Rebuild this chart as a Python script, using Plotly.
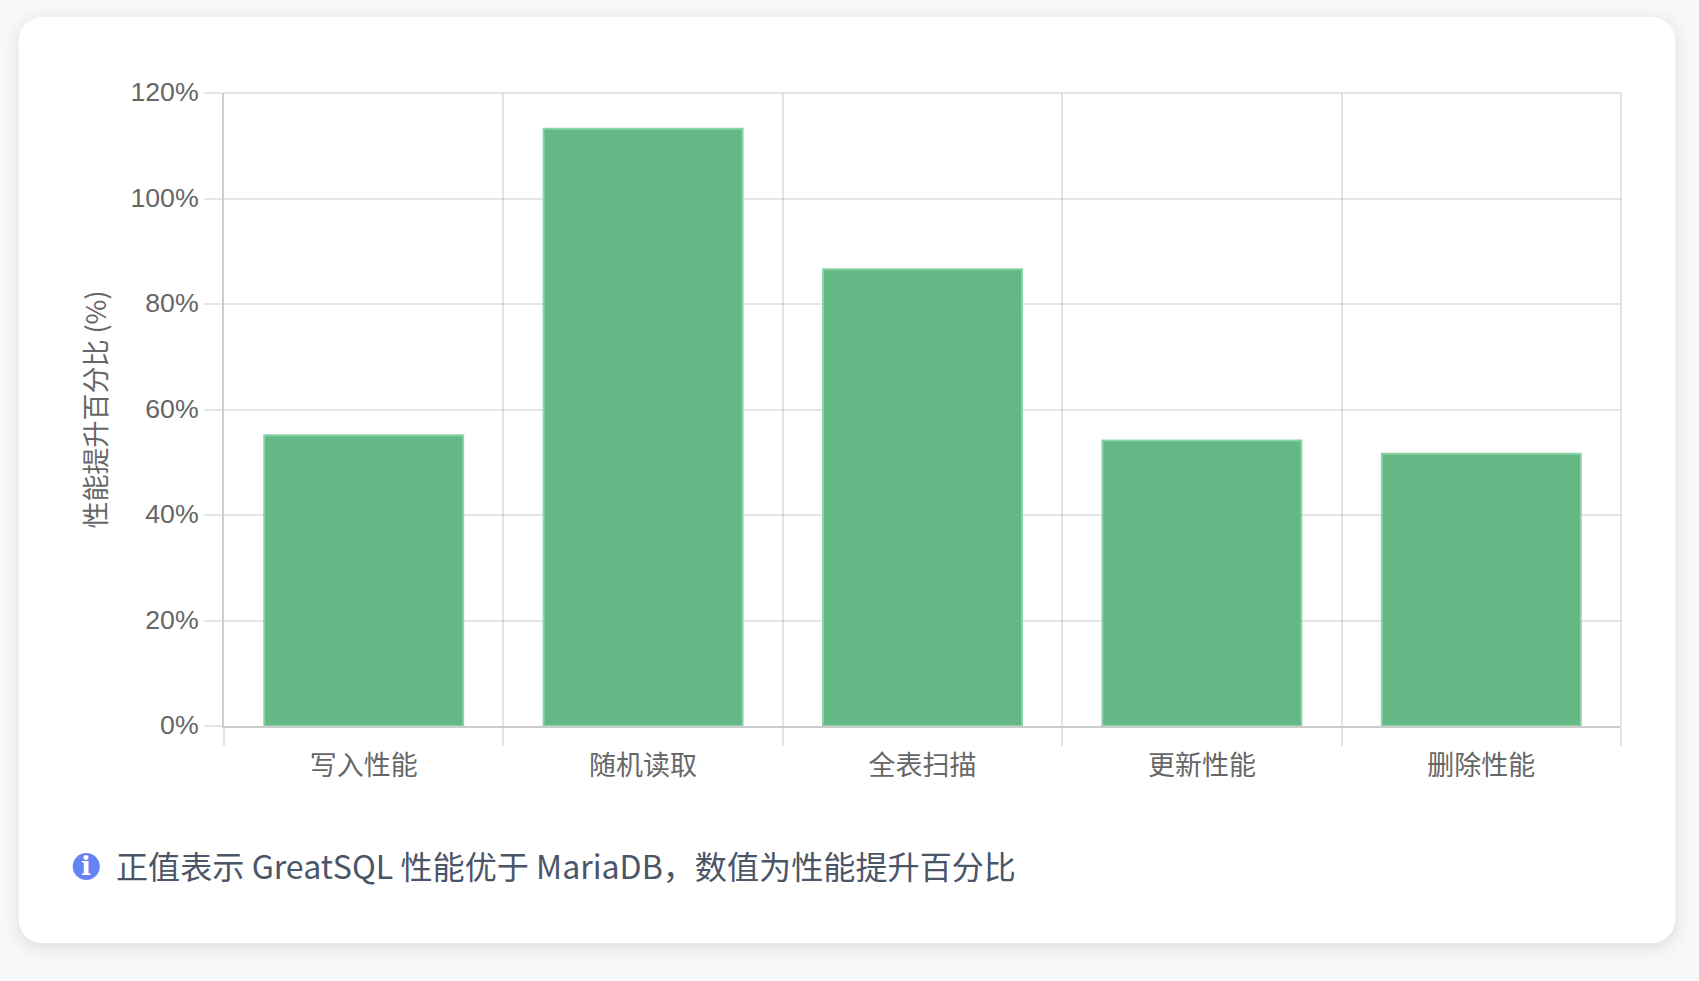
import plotly.graph_objects as go

categories = ["写入性能", "随机读取", "全表扫描", "更新性能", "删除性能"]
improvement = [55.1, 113.2, 86.6, 54.1, 51.6]
y_ticks = [0, 20, 40, 60, 80, 100, 120]
y_tick_labels = ["0%", "20%", "40%", "60%", "80%", "100%", "120%"]
y_title = "性能提升百分比 (%)"
note_text = "正值表示 GreatSQL 性能优于 MariaDB，数值为性能提升百分比"

W, H = 1699, 981
L, R, T, B = 224, 1620.6, 93, 726
CJK = "Liberation Sans, Arial, 'Noto Sans CJK SC', sans-serif"
GRID = "rgba(0,0,0,0.1)"


def px(x):
    return (x - L) / (R - L)


def py(y):
    return (B - y) / (B - T)


def rounded(x0, y0, x1, y1, r):
    k = 0.45 * r
    pts = [
        ("M", x0 + r, y0), ("L", x1 - r, y0),
        ("C", x1 - k, y0, x1, y0 + k, x1, y0 + r),
        ("L", x1, y1 - r),
        ("C", x1, y1 - k, x1 - k, y1, x1 - r, y1),
        ("L", x0 + r, y1),
        ("C", x0 + k, y1, x0, y1 - k, x0, y1 - r),
        ("L", x0, y0 + r),
        ("C", x0, y0 + k, x0 + k, y0, x0 + r, y0),
    ]
    out = []
    for p in pts:
        vals = p[1:]
        coords = " ".join(
            f"{px(vals[i]):.6f},{py(vals[i + 1]):.6f}" for i in range(0, len(vals), 2)
        )
        out.append(p[0] + " " + coords)
    return " ".join(out) + " Z"


shapes = []
for s, a in [(20, 0.004), (16, 0.005), (12, 0.006), (9, 0.007), (6, 0.008), (4, 0.009), (2, 0.01), (1, 0.01)]:
    shapes.append(dict(type="path", xref="paper", yref="paper", layer="below",
                       path=rounded(18.5 - s, 17 - s + 4, 1675 + s, 943 + s + 4, 24 + s),
                       fillcolor=f"rgba(0,0,0,{a})", line_width=0))
shapes.append(dict(type="path", xref="paper", yref="paper", layer="below",
                   path=rounded(18.5, 17, 1675, 943, 24), fillcolor="#ffffff", line_width=0))
shapes.append(dict(type="circle", xref="paper", yref="paper", layer="below",
                   x0=px(72.8), x1=px(99.8), y0=py(853), y1=py(880),
                   fillcolor="#6583f2", line_width=0))
# Closing grid lines on the top and right plot edges
shapes.append(dict(type="line", xref="paper", yref="paper", layer="below",
                   x0=0, x1=1, y0=1, y1=1, line=dict(color=GRID, width=2)))
shapes.append(dict(type="line", xref="paper", yref="paper", layer="below",
                   x0=1, x1=1, y0=0, y1=1, line=dict(color=GRID, width=2)))

fig = go.Figure(go.Bar(
    x=categories, y=improvement, width=0.712,
    marker=dict(color="#64b886", line=dict(color="rgba(135,210,165,0.95)", width=2)),
    hoverinfo="skip",
))

fig.update_layout(
    width=W, height=H, autosize=False, showlegend=False,
    margin=dict(l=L, r=W - R, t=T, b=H - B, pad=0),
    paper_bgcolor="#f8f9fb", plot_bgcolor="rgba(0,0,0,0)",
    font=dict(family=CJK, color="#666666", size=27),
    shapes=shapes,
    annotations=[
        dict(xref="paper", yref="paper", x=px(114.5), y=py(865), xanchor="left", yanchor="middle",
             text=note_text, showarrow=False,
             font=dict(family="'Noto Sans CJK SC', sans-serif", size=32.12, color="#4a5568")),
        dict(xref="paper", yref="paper", x=px(86.3), y=py(866), xanchor="center", yanchor="middle",
             text="<b>i</b>", showarrow=False,
             font=dict(family="'DejaVu Serif', serif", size=26, color="#ffffff")),
    ],
)
fig.update_xaxes(
    type="category", tickson="boundaries", range=[-0.5, 4.5],
    showgrid=True, gridcolor=GRID, gridwidth=2,
    ticks="outside", ticklen=18, tickwidth=2, tickcolor=GRID,
    ticklabelstandoff=15,
    showline=True, linecolor="rgba(0,0,0,0.2)", linewidth=2,
    zeroline=False,
    tickfont=dict(family="'Noto Sans CJK SC', sans-serif", size=27, color="#666666"),
)
fig.update_yaxes(
    range=[0, 120], tickvals=y_ticks, ticktext=y_tick_labels,
    showgrid=True, gridcolor=GRID, gridwidth=2,
    ticks="outside", ticklen=18, tickwidth=2, tickcolor=GRID,
    ticklabelshift=-1,
    showline=True, linecolor="rgba(0,0,0,0.2)", linewidth=2,
    zeroline=False,
    tickfont=dict(family="'Liberation Sans', Arial, sans-serif", size=26.7, color="#666666"),
    title=dict(text=y_title, standoff=16,
               font=dict(family="'Noto Sans CJK SC', sans-serif", size=27, color="#666666")),
)

fig.write_html(
    "out.html",
    config={"displayModeBar": False},
    post_script="document.body.style.margin='0';document.body.style.overflow='hidden';"
                "document.body.style.background='#f8f9fb';",
)
